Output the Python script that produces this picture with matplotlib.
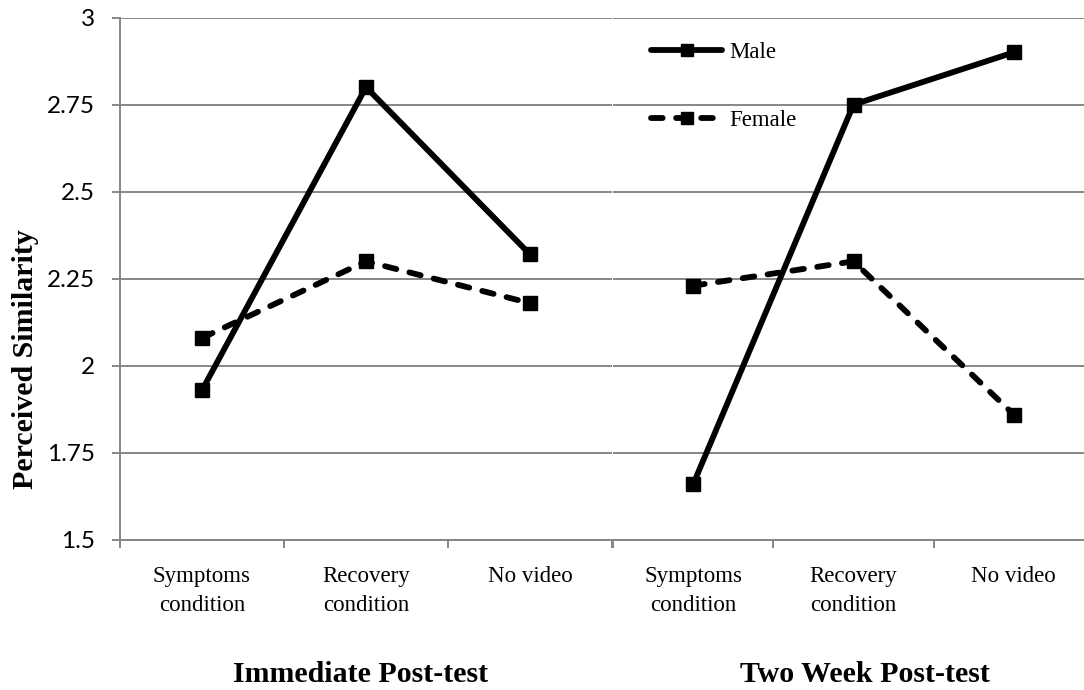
import matplotlib
matplotlib.use("Agg")
import matplotlib.pyplot as plt
from matplotlib.ticker import FixedLocator

# ---- data ----
conditions = ["Symptoms\ncondition", "Recovery\ncondition", "No video"]
panels = ["Immediate Post-test", "Two Week Post-test"]
male_immediate = [1.93, 2.80, 2.32]
female_immediate = [2.08, 2.30, 2.18]
male_twoweek = [1.66, 2.75, 2.90]
female_twoweek = [2.23, 2.30, 1.86]
yticks = [1.5, 1.75, 2.0, 2.25, 2.5, 2.75, 3.0]
ytick_labels = ["1.5", "1.75", "2", "2.25", "2.5", "2.75", "3"]
ylabel = "Perceived Similarity"

W, H = 1084, 690
fig = plt.figure(figsize=(W / 100, H / 100), dpi=100)

GRID = "#868686"
SERIF = "Liberation Serif"
SANS = "Lato"

y_bot, y_top = 540, 17.5
def rect(x0, x1):
    return [x0 / W, (H - y_bot) / H, (x1 - x0) / W, (y_bot - y_top) / H]

ax1 = fig.add_axes(rect(120, 612))
ax2 = fig.add_axes(rect(613, 1094))

series = [(ax1, male_immediate, female_immediate), (ax2, male_twoweek, female_twoweek)]
xs = [0.5, 1.5, 2.5]
for i, (ax, m, f) in enumerate(series):
    ax.set_xlim(0, 3)
    ax.set_ylim(1.5, 3.0)
    ax.plot(xs, m, color="black", lw=4.2, marker="s", ms=10.5,
            solid_capstyle="round", solid_joinstyle="miter", label="Male", zorder=3, clip_on=False)
    ax.plot(xs, f, color="black", lw=4.2, marker="s", ms=10.5,
            linestyle=(0, (2.0, 2.3)), dash_capstyle="round", label="Female", zorder=3, clip_on=False)
    ax.set_yticks(yticks)
    ax.yaxis.grid(True, color=GRID, lw=1.4)
    ax.set_axisbelow(True)
    for s in ["top", "right"]:
        ax.spines[s].set_visible(False)
    ax.spines["bottom"].set_color(GRID)
    ax.spines["bottom"].set_linewidth(1.4)
    ax.spines["left"].set_color(GRID)
    ax.spines["left"].set_linewidth(1.4)
    ax.set_xticks(xs)
    ax.set_xticklabels(conditions, fontfamily=SERIF, fontsize=16.5, linespacing=1.45)
    ax.xaxis.set_minor_locator(FixedLocator([0, 1, 2, 3]))
    ax.tick_params(axis="x", which="major", length=0, pad=19)
    ax.tick_params(axis="x", which="minor", length=6, width=1.4, color=GRID)
    ax.set_xlabel("")
    if i == 0:
        ax.set_yticklabels(ytick_labels, fontfamily=SANS, fontsize=17.5)
        ax.tick_params(axis="y", length=6, width=1.4, color=GRID, pad=12)
    else:
        ax.spines["left"].set_visible(False)
        ax.tick_params(axis="y", length=0, labelleft=False)

for name, cx in zip(panels, [360.5, 864.5]):
    fig.text(cx / W, (H - 682) / H, name, ha="center", va="baseline",
             fontfamily=SERIF, fontweight="bold", fontsize=21.5)

fig.text(26 / W, (H - 359) / H, ylabel, rotation=90, ha="center", va="center",
         fontfamily=SERIF, fontweight="bold", fontsize=21.5)

leg = ax2.legend(loc="upper left", bbox_to_anchor=(651 / W, (H - 42) / H),
                 bbox_transform=fig.transFigure, frameon=False,
                 prop={"family": SERIF, "size": 16.5}, handlelength=3.1,
                 handletextpad=0.3, labelspacing=2.05, markerscale=0.85,
                 borderpad=0, borderaxespad=0)

fig.savefig("out.png", dpi=100)
